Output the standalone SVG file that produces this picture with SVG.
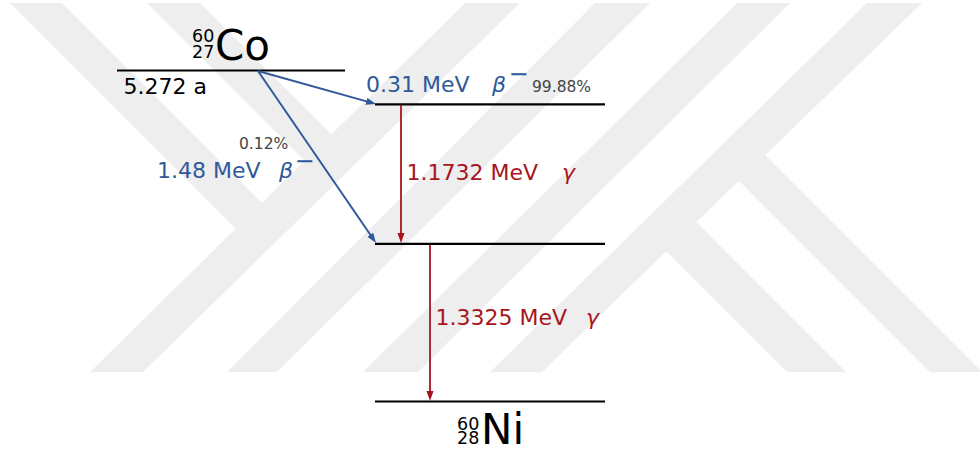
<svg xmlns="http://www.w3.org/2000/svg" width="980" height="454" viewBox="0 0 980 454">
  <style>
    text { font-family: "DejaVu Sans", "Liberation Sans", sans-serif; }
    .wm { fill: #eeeeee; stroke: none; }
    .level { stroke: #000000; stroke-width: 2.2; fill: none; }
    .beta { stroke: #30599a; stroke-width: 2; fill: none; }
    .gamma { stroke: #a8141c; stroke-width: 1.8; fill: none; }
    .blue { fill: #30599a; }
    .red { fill: #a8141c; }
    .pct { fill: #444444; font-size: 15.5px; }
    .lbl { font-size: 22px; }
    .greek { font-style: italic; font-size: 22px; }
    .nuc { font-size: 17.5px; }
    .sup { font-size: 24px; }
  </style>
  <defs>
    <marker id="headBlue" markerUnits="userSpaceOnUse" markerWidth="12" markerHeight="8" refX="4" refY="3.5" orient="auto">
      <path d="M0,0 L10,3.5 L0,7 Z" fill="#30599a"/>
    </marker>
    <marker id="headRed" markerUnits="userSpaceOnUse" markerWidth="12" markerHeight="8" refX="4" refY="3.5" orient="auto">
      <path d="M0,0 L10,3.5 L0,7 Z" fill="#a8141c"/>
    </marker>
  </defs>

  <rect width="980" height="454" fill="#ffffff"/>

  <!-- background emblem: slanted bands -->
  <g id="emblem">
    <polygon class="wm" points="90,372 143,372 520,3 465,3"/>
    <polygon class="wm" points="227,372 277,372 650,3 595,3"/>
    <polygon class="wm" points="363,372 418,372 790,3 737,3"/>
    <polygon class="wm" points="490,372 542,372 922,3 867,3"/>
    <polygon class="wm" points="10,3 62,3 275.2,216.2 249,242"/>
    <polygon class="wm" points="147,3 200,3 344.9,147.9 318.1,174.1"/>
    <polygon class="wm" points="752,142 982,372 930,372 725.6,167.6"/>
    <polygon class="wm" points="683.1,209.1 846,372 787,372 653.2,238.2"/>
  </g>

  <!-- energy levels -->
  <g id="co60">
    <line class="level" x1="117" y1="70.5" x2="345" y2="70.5"/>
    <text class="nuc" x="192" y="42">60</text>
    <text class="nuc" x="192" y="58">27</text>
    <text x="215" y="60" font-size="42">Co</text>
    <text class="lbl" x="123.5" y="93.5">5.272 a</text>
  </g>
  <g id="level-2505">
    <line class="level" x1="375" y1="104.3" x2="605" y2="104.3"/>
  </g>
  <g id="level-1333">
    <line class="level" x1="375" y1="243.8" x2="605" y2="243.8"/>
  </g>
  <g id="ni60">
    <line class="level" x1="375" y1="401.5" x2="605" y2="401.5"/>
    <text class="nuc" x="457" y="430">60</text>
    <text class="nuc" x="457" y="444">28</text>
    <text x="481" y="444" font-size="42">Ni</text>
  </g>

  <!-- transitions -->
  <g id="connectors">
    <line class="beta" x1="258" y1="71" x2="370.2" y2="102.4" marker-end="url(#headBlue)"/>
    <line class="beta" x1="258" y1="71" x2="372.6" y2="238" marker-end="url(#headBlue)"/>
    <line class="gamma" x1="401" y1="105" x2="401" y2="237" marker-end="url(#headRed)"/>
    <line class="gamma" x1="430" y1="245" x2="430" y2="395" marker-end="url(#headRed)"/>
  </g>

  <!-- transition labels -->
  <g id="labels">
    <text class="lbl blue" x="366" y="91.5">0.31 MeV</text>
    <text class="greek blue" x="492" y="91.5">β</text>
    <text class="blue sup" x="508.5" y="82">−</text>
    <text class="pct" x="532" y="91.5">99.88%</text>

    <text class="pct" x="239" y="148.5">0.12%</text>
    <text class="lbl blue" x="157" y="177.5">1.48 MeV</text>
    <text class="greek blue" x="279" y="177.5">β</text>
    <text class="blue sup" x="294.5" y="168.5">−</text>

    <text class="lbl red" x="406.5" y="179.5">1.1732 MeV</text>
    <text class="greek red" x="562" y="179.5">γ</text>

    <text class="lbl red" x="435.5" y="325">1.3325 MeV</text>
    <text class="greek red" x="586" y="325">γ</text>
  </g>
</svg>
